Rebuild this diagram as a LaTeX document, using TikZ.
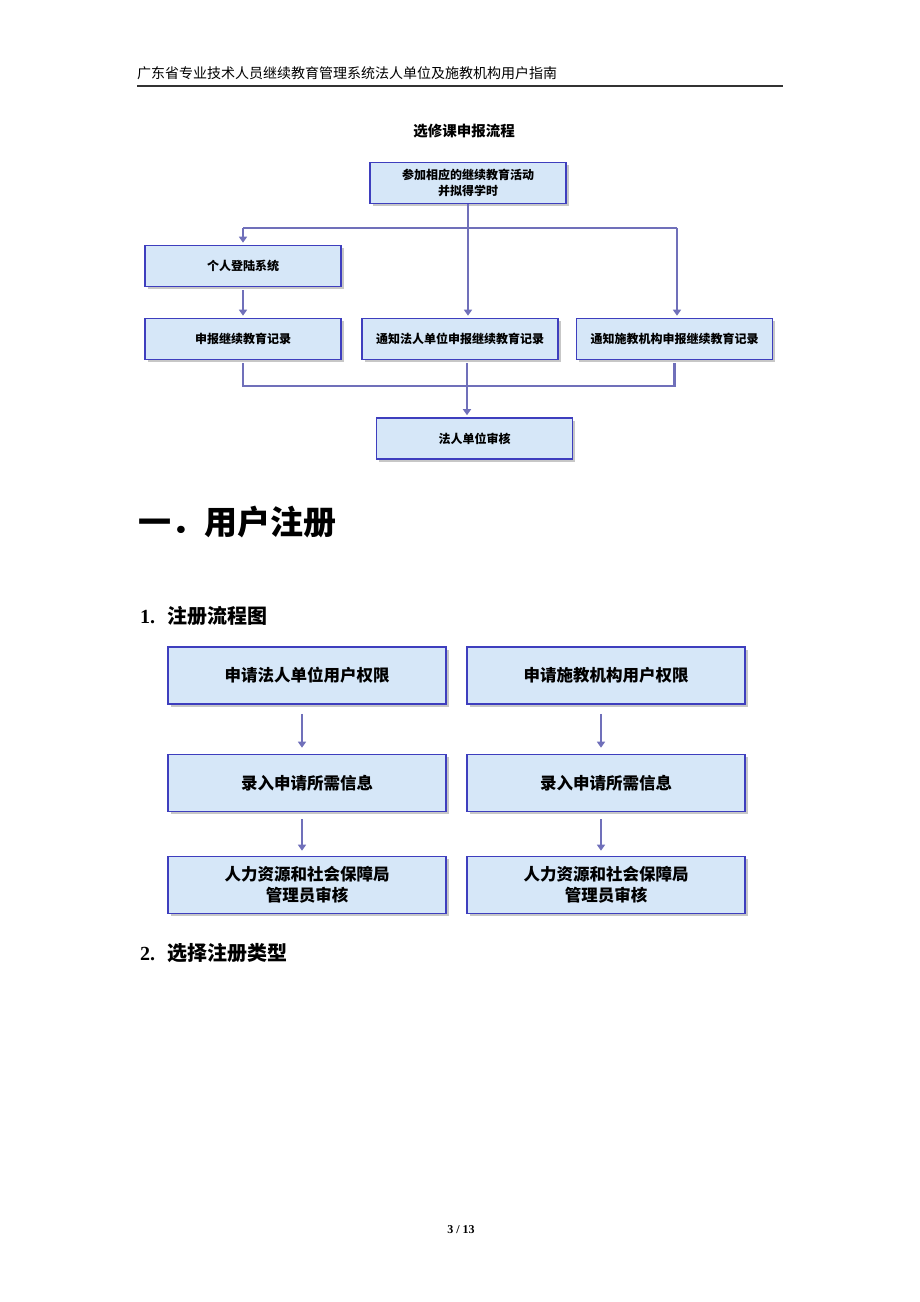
\documentclass[tikz,border=0pt]{standalone}
\usepackage{fontspec}
\setmainfont{Liberation Serif}
\newfontfamily\cjk{Noto Sans CJK SC}
\usetikzlibrary{arrows.meta,shadows}
\definecolor{boxline}{RGB}{62,62,190}
\definecolor{boxfill}{RGB}{214,231,248}
\definecolor{flowline}{RGB}{112,112,186}
\tikzstyle{flowbox}=[draw=boxline, fill=boxfill, line width=1.6pt, minimum width=196pt, minimum height=41pt, inner sep=0pt, align=center, font=\cjk\bfseries\fontsize{12}{16}\selectfont, drop shadow={shadow xshift=2.5pt, shadow yshift=-2.5pt, fill=black!22, opacity=1}]
\tikzstyle{regbox}=[flowbox, minimum width=278pt, minimum height=57pt, font=\cjk\bfseries\fontsize{16.5}{21}\selectfont]
\tikzstyle{link}=[flowline, line width=2.8pt]
\tikzstyle{linkarrow}=[link, -{Triangle[length=6pt,width=8pt]}]

\begin{document}
\begin{tikzpicture}[x=1pt, y=-1pt]
\useasboundingbox (0,0) rectangle (920,1302);
% Page header
    \node[anchor=west, inner sep=0pt, font=\cjk\fontsize{14}{16}\selectfont] (header) at (137,73) {广东省专业技术人员继续教育管理系统法人单位及施教机构用户指南};
    \draw[line width=1.4pt, black!80] (137,86) -- (783,86);
% Elective course flow
    \node[font=\cjk\bfseries\fontsize{14.5}{16}\selectfont] (flowtitle) at (464,131) {选修课申报流程};
    \node[flowbox] (attend) at (468,183) {参加相应的继续教育活动\\并拟得学时};
    \node[flowbox] (login) at (243,266) {个人登陆系统};
    \node[flowbox] (report) at (243,339) {申报继续教育记录};
    \node[flowbox] (notifyunit) at (460,339) {通知法人单位申报继续教育记录};
    \node[flowbox] (notifyorg) at (674.5,339) {通知施教机构申报继续教育记录};
    \node[flowbox] (unitcheck) at (474.5,438.5) {法人单位审核};
    \coordinate (splitl) at (243,228);
    \coordinate (splitr) at (677,228);
    \coordinate (merge) at (467,386);
    \draw[link] (splitl) -- (splitr);
    \draw[linkarrow, shorten >=2pt] (splitl) -- (login.north);
    \draw[linkarrow, shorten >=2pt] (attend.south) -- (attend.south |- notifyunit.north);
    \draw[linkarrow, shorten >=2pt] (splitr) -- (splitr |- notifyorg.north);
    \draw[linkarrow, shorten <=3pt, shorten >=2pt] (login.south) -- (report.north);
    \draw[link, shorten <=3pt, shorten >=3pt] (report.south) |- (merge) -| (notifyorg.south);
    \draw[linkarrow, shorten <=3pt, shorten >=2pt] (notifyunit.south -| merge) -- (unitcheck.north -| merge);
% Section headings
    \node[anchor=west, inner sep=0pt, font=\cjk\bfseries\fontsize{33}{38}\selectfont] (chapter) at (138,522) {一．用户注册};
    \node[anchor=west, inner sep=0pt, font=\bfseries\fontsize{20}{24}\selectfont] (secflow) at (140,616) {1.\hspace{12pt}{\cjk 注册流程图}};
% Registration flow
    \node[regbox] (applyunit) at (307,675.5) {申请法人单位用户权限};
    \node[regbox] (applyorg) at (606,675.5) {申请施教机构用户权限};
    \node[regbox] (inputunit) at (307,783) {录入申请所需信息};
    \node[regbox] (inputorg) at (606,783) {录入申请所需信息};
    \node[regbox] (auditunit) at (307,885) {人力资源和社会保障局\\管理员审核};
    \node[regbox] (auditorg) at (606,885) {人力资源和社会保障局\\管理员审核};
    \draw[linkarrow, shorten <=9pt, shorten >=6pt] ([xshift=-5pt]applyunit.south) -- ([xshift=-5pt]inputunit.north);
    \draw[linkarrow, shorten <=9pt, shorten >=6pt] ([xshift=-5pt]applyorg.south) -- ([xshift=-5pt]inputorg.north);
    \draw[linkarrow, shorten <=7pt, shorten >=5pt] ([xshift=-5pt]inputunit.south) -- ([xshift=-5pt]auditunit.north);
    \draw[linkarrow, shorten <=7pt, shorten >=5pt] ([xshift=-5pt]inputorg.south) -- ([xshift=-5pt]auditorg.north);
    \node[anchor=west, inner sep=0pt, font=\bfseries\fontsize{20}{24}\selectfont] (sectype) at (140,953) {2.\hspace{12pt}{\cjk 选择注册类型}};
% Page number
    \node[font=\bfseries\fontsize{12}{14}\selectfont] (pagenum) at (461,1230) {3 / 13};
\end{tikzpicture}
\end{document}
